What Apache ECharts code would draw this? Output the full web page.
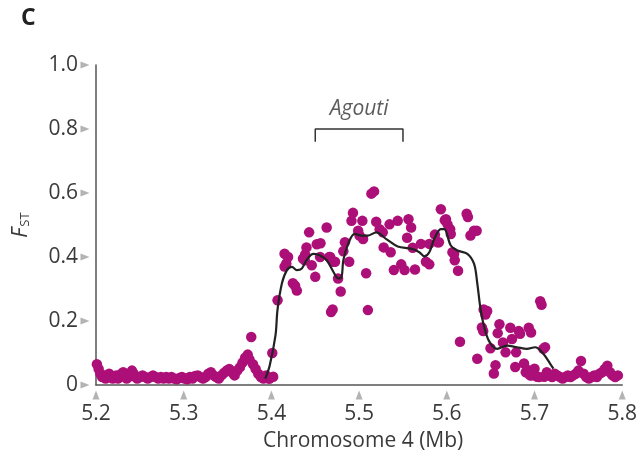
<!DOCTYPE html>
<html>
<head>
<meta charset="utf-8">
<script src="https://cdn.jsdelivr.net/npm/echarts@6/dist/echarts.min.js"></script>
<style>
  html, body { margin: 0; padding: 0; background: #fff; }
  #chart { width: 640px; height: 457px; }
</style>
</head>
<body>
<div id="chart"></div>
<script>
// Axis ticks
const xTicks = [5.2, 5.3, 5.4, 5.5, 5.6, 5.7, 5.8];
const xTickLabels = ['5.2', '5.3', '5.4', '5.5', '5.6', '5.7', '5.8'];
const yTicks = [0, 0.2, 0.4, 0.6, 0.8, 1.0];
const yTickLabels = ['0', '0.2', '0.4', '0.6', '0.8', '1.0'];

// Per-window FST along chromosome 4 (position in Mb)
const windowPos = [
  5.201, 5.203, 5.205, 5.207, 5.209, 5.211, 5.213, 5.215, 5.217, 5.219,
  5.221, 5.223, 5.225, 5.227, 5.229, 5.231, 5.233, 5.235, 5.237, 5.239,
  5.241, 5.243, 5.245, 5.247, 5.250, 5.253, 5.256, 5.259, 5.262, 5.265,
  5.268, 5.271, 5.274, 5.277, 5.280, 5.283, 5.286, 5.289, 5.292, 5.295,
  5.298, 5.301, 5.304, 5.307, 5.310, 5.313, 5.316, 5.319, 5.322, 5.325,
  5.328, 5.331, 5.334, 5.337, 5.340, 5.343, 5.346, 5.349, 5.352, 5.355,
  5.358, 5.361, 5.364, 5.367, 5.370, 5.373, 5.375, 5.377, 5.379, 5.382,
  5.385, 5.388, 5.391, 5.394, 5.397, 5.398, 5.401, 5.402,
  5.407, 5.415, 5.417, 5.415, 5.419, 5.4245, 5.427, 5.429, 5.436, 5.4385,
  5.440, 5.443, 5.446, 5.450, 5.4517, 5.456, 5.463, 5.466, 5.4706, 5.4698,
  5.468, 5.476, 5.479, 5.482, 5.4838, 5.4887, 5.4913, 5.493, 5.4989, 5.5037,
  5.5045, 5.508, 5.510, 5.514, 5.517, 5.5234, 5.527, 5.528, 5.536, 5.5347,
  5.544, 5.5396, 5.548, 5.5518, 5.5547, 5.5563, 5.5593, 5.5611, 5.5637, 5.5705,
  5.5762, 5.580, 5.580, 5.5864, 5.5894, 5.5932, 5.5977, 5.599, 5.6008, 5.6038,
  5.6045, 5.591, 5.6064, 5.6083, 5.609, 5.6128, 5.6226, 5.624, 5.627, 5.631,
  5.634, 5.4555, 5.4725, 5.467, 5.438, 5.5005, 5.5195,
  5.642, 5.644, 5.646, 5.640, 5.6415, 5.615, 5.6498, 5.660, 5.658, 5.664,
  5.667, 5.6347, 5.6555, 5.6536, 5.6724, 5.6743, 5.682, 5.6835, 5.6934, 5.696,
  5.679, 5.678, 5.688, 5.693, 5.700, 5.7065, 5.708, 5.710, 5.711, 5.703,
  5.690, 5.697, 5.695, 5.698, 5.705, 5.712,
  5.714, 5.717, 5.720, 5.723, 5.726, 5.729, 5.732, 5.735, 5.738, 5.741,
  5.744, 5.747, 5.750, 5.753, 5.756, 5.759, 5.762, 5.765, 5.768, 5.771,
  5.774, 5.777, 5.780, 5.783, 5.786, 5.789, 5.792, 5.795
];
const fstValues = [
  0.065, 0.050, 0.035, 0.025, 0.030, 0.020, 0.025, 0.035, 0.030, 0.020,
  0.025, 0.030, 0.020, 0.025, 0.035, 0.040, 0.030, 0.020, 0.025, 0.035,
  0.045, 0.035, 0.025, 0.020, 0.025, 0.030, 0.025, 0.020, 0.025, 0.030,
  0.025, 0.020, 0.025, 0.020, 0.025, 0.020, 0.025, 0.020, 0.018, 0.022,
  0.025, 0.020, 0.018, 0.025, 0.020, 0.028, 0.030, 0.025, 0.020, 0.025,
  0.035, 0.040, 0.030, 0.025, 0.020, 0.030, 0.038, 0.045, 0.050, 0.040,
  0.030, 0.045, 0.055, 0.070, 0.085, 0.095, 0.080, 0.150, 0.065, 0.050,
  0.035, 0.025, 0.020, 0.030, 0.020, 0.020, 0.100, 0.026,
  0.265, 0.370, 0.380, 0.410, 0.400, 0.318, 0.310, 0.295, 0.395, 0.408,
  0.430, 0.477, 0.374, 0.338, 0.440, 0.443, 0.492, 0.400, 0.385, 0.236,
  0.228, 0.333, 0.292, 0.418, 0.446, 0.385, 0.513, 0.538, 0.482, 0.513,
  0.456, 0.349, 0.234, 0.598, 0.605, 0.487, 0.477, 0.430, 0.415, 0.502,
  0.513, 0.359, 0.377, 0.359, 0.460, 0.518, 0.492, 0.429, 0.361, 0.441,
  0.385, 0.377, 0.441, 0.470, 0.446, 0.549, 0.515, 0.518, 0.502, 0.487,
  0.472, 0.446, 0.415, 0.410, 0.390, 0.357, 0.535, 0.525, 0.467, 0.482,
  0.482, 0.400, 0.385, 0.400, 0.390, 0.467, 0.510,
  0.236, 0.220, 0.231, 0.180, 0.169, 0.135, 0.115, 0.190, 0.162, 0.133,
  0.102, 0.082, 0.062, 0.036, 0.179, 0.144, 0.169, 0.160, 0.179, 0.164,
  0.102, 0.056, 0.067, 0.046, 0.051, 0.262, 0.251, 0.113, 0.026, 0.026,
  0.040, 0.030, 0.030, 0.040, 0.025, 0.118,
  0.040, 0.030, 0.025, 0.035, 0.030, 0.025, 0.020, 0.025, 0.030, 0.025,
  0.030, 0.035, 0.045, 0.075, 0.035, 0.025, 0.020, 0.025, 0.030, 0.025,
  0.035, 0.040, 0.050, 0.060, 0.040, 0.030, 0.025, 0.030
];

// Smoothed FST trend
const smoothPos = [
  5.393, 5.398, 5.4046, 5.407, 5.412, 5.4177, 5.4234, 5.429, 5.4347, 5.440,
  5.4479, 5.4555, 5.463, 5.4706, 5.4763, 5.480, 5.482, 5.4875, 5.495, 5.5026,
  5.510, 5.5196, 5.531, 5.544, 5.5593, 5.5687, 5.5743, 5.580, 5.5856, 5.5932,
  5.597, 5.6045, 5.612, 5.6234, 5.631, 5.6347, 5.6385, 5.6423, 5.648, 5.6574,
  5.6687, 5.680, 5.6913, 5.7007, 5.7102, 5.7177, 5.7215
];
const smoothFst = [
  0.020, 0.060, 0.154, 0.236, 0.318, 0.359, 0.369, 0.359, 0.364, 0.390,
  0.410, 0.405, 0.390, 0.354, 0.333, 0.338, 0.390, 0.441, 0.472, 0.467,
  0.467, 0.477, 0.456, 0.433, 0.426, 0.415, 0.402, 0.415, 0.456, 0.487,
  0.487, 0.436, 0.420, 0.410, 0.379, 0.318, 0.236, 0.185, 0.138, 0.113,
  0.123, 0.118, 0.113, 0.118, 0.097, 0.067, 0.051
];

// Gene annotation
const geneName = 'Agouti';
const geneStart = 5.45;
const geneEnd = 5.55;
const bracketTop = 0.8;
const bracketFoot = 0.76;

const TEXT = '#3a3a3a';
const FONT = '"Open Sans", "Noto Sans", sans-serif';

const chart = echarts.init(document.getElementById('chart'), null, { renderer: 'canvas' });

chart.setOption({
  animation: false,
  backgroundColor: '#ffffff',
  title: {
    text: 'C',
    left: 16,
    top: 2,
    textStyle: { fontFamily: FONT, fontSize: 23, fontWeight: 'bold', color: '#222' }
  },
  grid: { left: 96, right: 14, top: 65, bottom: 67, containLabel: false },
  xAxis: {
    type: 'value',
    min: xTicks[0],
    max: xTicks[xTicks.length - 1],
    interval: 0.1,
    name: 'Chromosome 4 (Mb)',
    nameLocation: 'middle',
    nameGap: 46,
    nameTextStyle: { fontFamily: FONT, fontSize: 21, color: TEXT, padding: [0, 0, 0, 8] },
    axisLine: { show: true, onZero: false, lineStyle: { color: '#555', width: 1.5 } },
    axisTick: { show: false },
    splitLine: { show: false },
    axisLabel: {
      margin: 19,
      fontFamily: FONT,
      fontSize: 21,
      color: TEXT,
      formatter: v => {
        const i = xTicks.findIndex(t => Math.abs(t - v) < 1e-6);
        return i >= 0 ? xTickLabels[i] : '';
      }
    }
  },
  yAxis: {
    type: 'value',
    min: yTicks[0],
    max: yTicks[yTicks.length - 1],
    interval: 0.2,
    name: '{f|F}{s|ST}',
    nameLocation: 'middle',
    nameGap: 64,
    nameRotate: 90,
    nameTextStyle: {
      rich: {
        f: { fontFamily: FONT, fontSize: 21, fontStyle: 'italic', color: TEXT, verticalAlign: 'bottom' },
        s: { fontFamily: FONT, fontSize: 13, color: TEXT, verticalAlign: 'bottom', padding: [0, 0, 0, 1] }
      }
    },
    axisLine: { show: true, lineStyle: { color: '#555', width: 1.5 } },
    axisTick: { show: false },
    splitLine: { show: false },
    axisLabel: {
      margin: 18,
      fontFamily: FONT,
      fontSize: 21,
      color: TEXT,
      formatter: v => {
        const i = yTicks.findIndex(t => Math.abs(t - v) < 1e-6);
        return i >= 0 ? yTickLabels[i] : '';
      }
    }
  },
  series: [
    {
      // FST per window
      type: 'scatter',
      data: windowPos.map((x, i) => [x, fstValues[i]]),
      symbol: 'circle',
      symbolSize: 10.5,
      itemStyle: { color: '#ad0f78', opacity: 1 },
      z: 2,
      silent: true
    },
    {
      // smoothed trend
      type: 'line',
      data: smoothPos.map((x, i) => [x, smoothFst[i]]),
      smooth: 0.35,
      showSymbol: false,
      symbol: 'none',
      lineStyle: { color: '#222', width: 2.2 },
      z: 3,
      silent: true
    },
    {
      // gene bracket
      type: 'line',
      data: [[geneStart, bracketFoot], [geneStart, bracketTop], [geneEnd, bracketTop], [geneEnd, bracketFoot]],
      symbol: 'none',
      lineStyle: { color: '#333', width: 1.5 },
      z: 4,
      silent: true
    },
    {
      // gene name above the bracket
      type: 'scatter',
      data: [[(geneStart + geneEnd) / 2, bracketTop]],
      symbolSize: 0,
      label: {
        show: true,
        position: 'top',
        distance: 9,
        formatter: geneName,
        fontFamily: FONT,
        fontSize: 21,
        fontStyle: 'italic',
        color: '#333'
      },
      z: 4,
      silent: true
    },
    {
      // y tick arrowheads
      type: 'scatter',
      data: yTicks.map(v => [xTicks[0], v]),
      symbol: 'triangle',
      symbolSize: [7, 9],
      symbolRotate: -90,
      symbolOffset: [-11, 0],
      itemStyle: { color: '#a0a0a0' },
      clip: false,
      z: 1,
      silent: true
    },
    {
      // x tick arrowheads
      type: 'scatter',
      data: xTicks.map(v => [v, yTicks[0]]),
      symbol: 'triangle',
      symbolSize: [7, 9],
      symbolOffset: [0, 10],
      itemStyle: { color: '#a0a0a0' },
      clip: false,
      z: 1,
      silent: true
    }
  ]
});
</script>
</body>
</html>
